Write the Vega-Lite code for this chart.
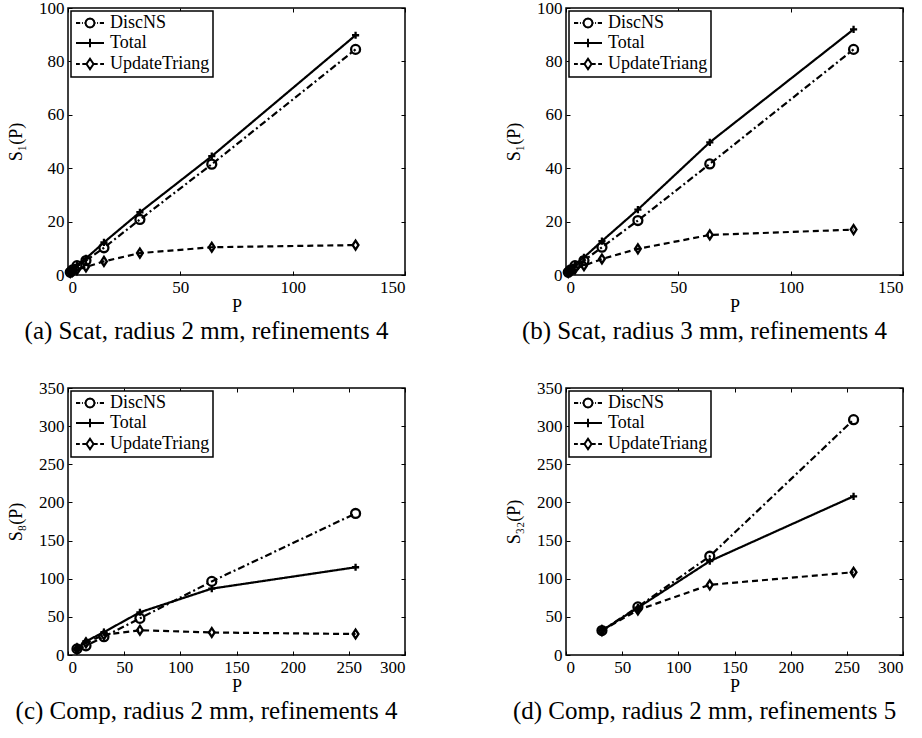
{
  "$schema": "https://vega.github.io/schema/vega-lite/v6.json",
  "padding": {"left": 6, "top": -2, "right": 0, "bottom": 0},
  "background": "white",
  "columns": 2,
  "spacing": {"row": 33, "column": 97},
  "resolve": {"scale": {"shape": "independent", "strokeDash": "independent"}, "legend": {"shape": "independent", "strokeDash": "independent"}},
  "datasets": {
    "a": [
      {"P": 1, "S": 1, "series": "DiscNS"}, {"P": 2, "S": 1.9, "series": "DiscNS"}, {"P": 4, "S": 3.5, "series": "DiscNS"}, {"P": 8, "S": 5.4, "series": "DiscNS"}, {"P": 16, "S": 10.2, "series": "DiscNS"}, {"P": 32, "S": 20.8, "series": "DiscNS"}, {"P": 64, "S": 41.5, "series": "DiscNS"}, {"P": 128, "S": 84.5, "series": "DiscNS"},
      {"P": 1, "S": 1, "series": "Total"}, {"P": 2, "S": 2, "series": "Total"}, {"P": 4, "S": 3.8, "series": "Total"}, {"P": 8, "S": 6.2, "series": "Total"}, {"P": 16, "S": 12.2, "series": "Total"}, {"P": 32, "S": 23.5, "series": "Total"}, {"P": 64, "S": 44.5, "series": "Total"}, {"P": 128, "S": 89.8, "series": "Total"},
      {"P": 1, "S": 1, "series": "UpdateTriang"}, {"P": 2, "S": 1.4, "series": "UpdateTriang"}, {"P": 4, "S": 2, "series": "UpdateTriang"}, {"P": 8, "S": 3, "series": "UpdateTriang"}, {"P": 16, "S": 5.1, "series": "UpdateTriang"}, {"P": 32, "S": 8.2, "series": "UpdateTriang"}, {"P": 64, "S": 10.4, "series": "UpdateTriang"}, {"P": 128, "S": 11.2, "series": "UpdateTriang"}
    ],
    "b": [
      {"P": 1, "S": 1, "series": "DiscNS"}, {"P": 2, "S": 1.9, "series": "DiscNS"}, {"P": 4, "S": 3.5, "series": "DiscNS"}, {"P": 8, "S": 5.4, "series": "DiscNS"}, {"P": 16, "S": 10.4, "series": "DiscNS"}, {"P": 32, "S": 20.4, "series": "DiscNS"}, {"P": 64, "S": 41.6, "series": "DiscNS"}, {"P": 128, "S": 84.5, "series": "DiscNS"},
      {"P": 1, "S": 1, "series": "Total"}, {"P": 2, "S": 2, "series": "Total"}, {"P": 4, "S": 3.9, "series": "Total"}, {"P": 8, "S": 6.6, "series": "Total"}, {"P": 16, "S": 12.7, "series": "Total"}, {"P": 32, "S": 24.5, "series": "Total"}, {"P": 64, "S": 49.7, "series": "Total"}, {"P": 128, "S": 92, "series": "Total"},
      {"P": 1, "S": 1, "series": "UpdateTriang"}, {"P": 2, "S": 1.6, "series": "UpdateTriang"}, {"P": 4, "S": 2.3, "series": "UpdateTriang"}, {"P": 8, "S": 3.5, "series": "UpdateTriang"}, {"P": 16, "S": 6, "series": "UpdateTriang"}, {"P": 32, "S": 9.8, "series": "UpdateTriang"}, {"P": 64, "S": 15, "series": "UpdateTriang"}, {"P": 128, "S": 17, "series": "UpdateTriang"}
    ],
    "c": [
      {"P": 8, "S": 8, "series": "DiscNS"}, {"P": 16, "S": 12, "series": "DiscNS"}, {"P": 32, "S": 24, "series": "DiscNS"}, {"P": 64, "S": 48, "series": "DiscNS"}, {"P": 128, "S": 96.5, "series": "DiscNS"}, {"P": 256, "S": 185.5, "series": "DiscNS"},
      {"P": 8, "S": 8, "series": "Total"}, {"P": 16, "S": 18, "series": "Total"}, {"P": 32, "S": 30, "series": "Total"}, {"P": 64, "S": 56, "series": "Total"}, {"P": 128, "S": 87, "series": "Total"}, {"P": 256, "S": 115, "series": "Total"},
      {"P": 8, "S": 8, "series": "UpdateTriang"}, {"P": 16, "S": 16, "series": "UpdateTriang"}, {"P": 32, "S": 26.5, "series": "UpdateTriang"}, {"P": 64, "S": 32.5, "series": "UpdateTriang"}, {"P": 128, "S": 29.5, "series": "UpdateTriang"}, {"P": 256, "S": 27.5, "series": "UpdateTriang"}
    ],
    "d": [
      {"P": 32, "S": 32, "series": "DiscNS"}, {"P": 64, "S": 63, "series": "DiscNS"}, {"P": 128, "S": 129.5, "series": "DiscNS"}, {"P": 256, "S": 308.5, "series": "DiscNS"},
      {"P": 32, "S": 32, "series": "Total"}, {"P": 64, "S": 62, "series": "Total"}, {"P": 128, "S": 123, "series": "Total"}, {"P": 256, "S": 208, "series": "Total"},
      {"P": 32, "S": 32, "series": "UpdateTriang"}, {"P": 64, "S": 59, "series": "UpdateTriang"}, {"P": 128, "S": 92, "series": "UpdateTriang"}, {"P": 256, "S": 108.5, "series": "UpdateTriang"}
    ]
  },
  "config": {
    "view": {"stroke": "black", "strokeWidth": 1.5},
    "font": "Liberation Serif",
    "axis": {"domain": false, "grid": false, "tickColor": "black", "tickSize": -4, "tickWidth": 1, "labelFont": "Liberation Serif", "labelFontSize": 17, "labelColor": "black", "labelPadding": 8, "titleFont": "Liberation Serif", "titleFontSize": 18, "titleFontWeight": "normal", "titleColor": "black", "titlePadding": 2},
    "axisY": {"titlePadding": 13},
    "legend": {"orient": "top-left", "offset": 3, "padding": 3, "strokeColor": "black", "strokeWidth": 1.5, "fillColor": "white", "cornerRadius": 0, "labelFont": "Liberation Serif", "labelFontSize": 18, "labelColor": "black", "symbolSize": 196, "symbolStrokeWidth": 2, "symbolOpacity": 1, "symbolStrokeColor": "black", "symbolFillColor": "transparent", "labelOffset": 18, "rowPadding": 2},
    "title": {"orient": "bottom", "frame": "bounds", "anchor": "middle", "font": "Liberation Serif", "fontSize": 25, "fontWeight": "normal", "color": "black", "offset": 4}
  },
  "concat": [
    {
      "width": 337, "height": 267,
      "title": {"text": "(a)  Scat, radius 2 mm, refinements 4"},
      "data": {"name": "a"},
      "layer": [
        {"mark": {"type": "line", "color": "black", "strokeWidth": 2.2},
         "encoding": {
           "x": {"field": "P", "type": "quantitative", "scale": {"domain": [0, 150]}, "axis": {"values": [0, 50, 100, 150], "title": "P"}},
           "y": {"field": "S", "type": "quantitative", "scale": {"domain": [0, 100]}, "axis": {"values": [0, 20, 40, 60, 80, 100], "title": "S₁(P)"}},
           "strokeDash": {"field": "series", "type": "nominal", "scale": {"range": [[7, 3, 2, 3], [1, 0], [6, 4]]}, "legend": null}
         }},
        {"mark": {"type": "point", "filled": false, "color": "black", "strokeWidth": 2.3, "size": 80, "opacity": 1},
         "encoding": {
           "x": {"field": "P", "type": "quantitative", "scale": {"domain": [0, 150]}, "axis": {"orient": "top", "values": [0, 50, 100, 150], "labels": false, "title": null}},
           "y": {"field": "S", "type": "quantitative", "scale": {"domain": [0, 100]}, "axis": {"orient": "right", "values": [0, 20, 40, 60, 80, 100], "labels": false, "title": null}},
           "shape": {"field": "series", "type": "nominal", "scale": {"range": ["circle", "M0,-0.8V0.8M-0.8,0H0.8", "M0,-1L0.65,0L0,1L-0.65,0Z"]}, "legend": null}
         }},
        {"mark": {"type": "point", "filled": false, "color": "black", "strokeWidth": 2, "size": 196, "opacity": 0},
         "encoding": {
           "x": {"field": "P", "type": "quantitative", "scale": {"domain": [0, 150]}, "axis": null},
           "y": {"field": "S", "type": "quantitative", "scale": {"domain": [0, 100]}, "axis": null},
           "shape": {"field": "series", "type": "nominal", "scale": {"domain": ["DiscNS", "Total", "UpdateTriang"], "range": ["M-1,0H-0.4M-0.15,0H-0.02M0.2,0H0.36M1.64,0H1.8M2.02,0H2.15M2.4,0H3M1.64,0L1.554,0.32L1.32,0.554L1,0.64L0.68,0.554L0.446,0.32L0.36,0L0.446,-0.32L0.68,-0.554L1,-0.64L1.32,-0.554L1.554,-0.32Z", "M-1,0H3M1,-0.6V0.6", "M-1,0H-0.45M-0.1,0H0.5M1.5,0H2.1M2.45,0H3M1,-0.75L1.5,0L1,0.75L0.5,0Z"]}, "legend": {"title": null}}
         }}
      ],
      "resolve": {"axis": {"x": "independent", "y": "independent"}, "scale": {"shape": "independent"}, "legend": {"shape": "independent"}}
    },
    {
      "width": 337, "height": 267,
      "title": {"text": "(b)  Scat, radius 3 mm, refinements 4"},
      "data": {"name": "b"},
      "layer": [
        {"mark": {"type": "line", "color": "black", "strokeWidth": 2.2},
         "encoding": {
           "x": {"field": "P", "type": "quantitative", "scale": {"domain": [0, 150]}, "axis": {"values": [0, 50, 100, 150], "title": "P"}},
           "y": {"field": "S", "type": "quantitative", "scale": {"domain": [0, 100]}, "axis": {"values": [0, 20, 40, 60, 80, 100], "title": "S₁(P)"}},
           "strokeDash": {"field": "series", "type": "nominal", "scale": {"range": [[7, 3, 2, 3], [1, 0], [6, 4]]}, "legend": null}
         }},
        {"mark": {"type": "point", "filled": false, "color": "black", "strokeWidth": 2.3, "size": 80, "opacity": 1},
         "encoding": {
           "x": {"field": "P", "type": "quantitative", "scale": {"domain": [0, 150]}, "axis": {"orient": "top", "values": [0, 50, 100, 150], "labels": false, "title": null}},
           "y": {"field": "S", "type": "quantitative", "scale": {"domain": [0, 100]}, "axis": {"orient": "right", "values": [0, 20, 40, 60, 80, 100], "labels": false, "title": null}},
           "shape": {"field": "series", "type": "nominal", "scale": {"range": ["circle", "M0,-0.8V0.8M-0.8,0H0.8", "M0,-1L0.65,0L0,1L-0.65,0Z"]}, "legend": null}
         }},
        {"mark": {"type": "point", "filled": false, "color": "black", "strokeWidth": 2, "size": 196, "opacity": 0},
         "encoding": {
           "x": {"field": "P", "type": "quantitative", "scale": {"domain": [0, 150]}, "axis": null},
           "y": {"field": "S", "type": "quantitative", "scale": {"domain": [0, 100]}, "axis": null},
           "shape": {"field": "series", "type": "nominal", "scale": {"domain": ["DiscNS", "Total", "UpdateTriang"], "range": ["M-1,0H-0.4M-0.15,0H-0.02M0.2,0H0.36M1.64,0H1.8M2.02,0H2.15M2.4,0H3M1.64,0L1.554,0.32L1.32,0.554L1,0.64L0.68,0.554L0.446,0.32L0.36,0L0.446,-0.32L0.68,-0.554L1,-0.64L1.32,-0.554L1.554,-0.32Z", "M-1,0H3M1,-0.6V0.6", "M-1,0H-0.45M-0.1,0H0.5M1.5,0H2.1M2.45,0H3M1,-0.75L1.5,0L1,0.75L0.5,0Z"]}, "legend": {"title": null}}
         }}
      ],
      "resolve": {"axis": {"x": "independent", "y": "independent"}, "scale": {"shape": "independent"}, "legend": {"shape": "independent"}}
    },
    {
      "width": 337, "height": 267,
      "title": {"text": "(c)  Comp, radius 2 mm, refinements 4"},
      "data": {"name": "c"},
      "layer": [
        {"mark": {"type": "line", "color": "black", "strokeWidth": 2.2},
         "encoding": {
           "x": {"field": "P", "type": "quantitative", "scale": {"domain": [0, 300]}, "axis": {"values": [0, 50, 100, 150, 200, 250, 300], "title": "P"}},
           "y": {"field": "S", "type": "quantitative", "scale": {"domain": [0, 350]}, "axis": {"values": [0, 50, 100, 150, 200, 250, 300, 350], "title": "S₈(P)"}},
           "strokeDash": {"field": "series", "type": "nominal", "scale": {"range": [[7, 3, 2, 3], [1, 0], [6, 4]]}, "legend": null}
         }},
        {"mark": {"type": "point", "filled": false, "color": "black", "strokeWidth": 2.3, "size": 80, "opacity": 1},
         "encoding": {
           "x": {"field": "P", "type": "quantitative", "scale": {"domain": [0, 300]}, "axis": {"orient": "top", "values": [0, 50, 100, 150, 200, 250, 300], "labels": false, "title": null}},
           "y": {"field": "S", "type": "quantitative", "scale": {"domain": [0, 350]}, "axis": {"orient": "right", "values": [0, 50, 100, 150, 200, 250, 300, 350], "labels": false, "title": null}},
           "shape": {"field": "series", "type": "nominal", "scale": {"range": ["circle", "M0,-0.8V0.8M-0.8,0H0.8", "M0,-1L0.65,0L0,1L-0.65,0Z"]}, "legend": null}
         }},
        {"mark": {"type": "point", "filled": false, "color": "black", "strokeWidth": 2, "size": 196, "opacity": 0},
         "encoding": {
           "x": {"field": "P", "type": "quantitative", "scale": {"domain": [0, 300]}, "axis": null},
           "y": {"field": "S", "type": "quantitative", "scale": {"domain": [0, 350]}, "axis": null},
           "shape": {"field": "series", "type": "nominal", "scale": {"domain": ["DiscNS", "Total", "UpdateTriang"], "range": ["M-1,0H-0.4M-0.15,0H-0.02M0.2,0H0.36M1.64,0H1.8M2.02,0H2.15M2.4,0H3M1.64,0L1.554,0.32L1.32,0.554L1,0.64L0.68,0.554L0.446,0.32L0.36,0L0.446,-0.32L0.68,-0.554L1,-0.64L1.32,-0.554L1.554,-0.32Z", "M-1,0H3M1,-0.6V0.6", "M-1,0H-0.45M-0.1,0H0.5M1.5,0H2.1M2.45,0H3M1,-0.75L1.5,0L1,0.75L0.5,0Z"]}, "legend": {"title": null}}
         }}
      ],
      "resolve": {"axis": {"x": "independent", "y": "independent"}, "scale": {"shape": "independent"}, "legend": {"shape": "independent"}}
    },
    {
      "width": 337, "height": 267,
      "title": {"text": "(d)  Comp, radius 2 mm, refinements 5"},
      "data": {"name": "d"},
      "layer": [
        {"mark": {"type": "line", "color": "black", "strokeWidth": 2.2},
         "encoding": {
           "x": {"field": "P", "type": "quantitative", "scale": {"domain": [0, 300]}, "axis": {"values": [0, 50, 100, 150, 200, 250, 300], "title": "P"}},
           "y": {"field": "S", "type": "quantitative", "scale": {"domain": [0, 350]}, "axis": {"values": [0, 50, 100, 150, 200, 250, 300, 350], "title": "S₃₂(P)"}},
           "strokeDash": {"field": "series", "type": "nominal", "scale": {"range": [[7, 3, 2, 3], [1, 0], [6, 4]]}, "legend": null}
         }},
        {"mark": {"type": "point", "filled": false, "color": "black", "strokeWidth": 2.3, "size": 80, "opacity": 1},
         "encoding": {
           "x": {"field": "P", "type": "quantitative", "scale": {"domain": [0, 300]}, "axis": {"orient": "top", "values": [0, 50, 100, 150, 200, 250, 300], "labels": false, "title": null}},
           "y": {"field": "S", "type": "quantitative", "scale": {"domain": [0, 350]}, "axis": {"orient": "right", "values": [0, 50, 100, 150, 200, 250, 300, 350], "labels": false, "title": null}},
           "shape": {"field": "series", "type": "nominal", "scale": {"range": ["circle", "M0,-0.8V0.8M-0.8,0H0.8", "M0,-1L0.65,0L0,1L-0.65,0Z"]}, "legend": null}
         }},
        {"mark": {"type": "point", "filled": false, "color": "black", "strokeWidth": 2, "size": 196, "opacity": 0},
         "encoding": {
           "x": {"field": "P", "type": "quantitative", "scale": {"domain": [0, 300]}, "axis": null},
           "y": {"field": "S", "type": "quantitative", "scale": {"domain": [0, 350]}, "axis": null},
           "shape": {"field": "series", "type": "nominal", "scale": {"domain": ["DiscNS", "Total", "UpdateTriang"], "range": ["M-1,0H-0.4M-0.15,0H-0.02M0.2,0H0.36M1.64,0H1.8M2.02,0H2.15M2.4,0H3M1.64,0L1.554,0.32L1.32,0.554L1,0.64L0.68,0.554L0.446,0.32L0.36,0L0.446,-0.32L0.68,-0.554L1,-0.64L1.32,-0.554L1.554,-0.32Z", "M-1,0H3M1,-0.6V0.6", "M-1,0H-0.45M-0.1,0H0.5M1.5,0H2.1M2.45,0H3M1,-0.75L1.5,0L1,0.75L0.5,0Z"]}, "legend": {"title": null}}
         }}
      ],
      "resolve": {"axis": {"x": "independent", "y": "independent"}, "scale": {"shape": "independent"}, "legend": {"shape": "independent"}}
    }
  ]
}
